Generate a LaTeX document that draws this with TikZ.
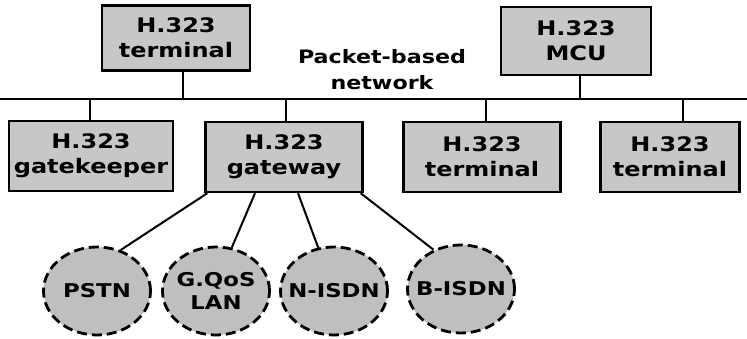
\documentclass[tikz,border=0pt]{standalone}
\usepackage{fontspec}
\setmainfont[FakeStretch=1.2]{DejaVu Sans}
\usetikzlibrary{shapes.geometric}
\begin{document}
\begin{tikzpicture}[x=1pt,y=-1pt,
  unitbox/.style={draw=black, line width=2.4pt, fill=black!22, inner sep=0pt,
    align=center, font=\bfseries\fontsize{20}{25}\selectfont},
  netcloud/.style={ellipse, draw=black, line width=2.8pt, dash pattern=on 10pt off 5pt,
    fill=black!25, inner sep=0pt, minimum width=107pt, minimum height=88pt,
    label={[align=center, font=\bfseries\fontsize{19}{23}\selectfont]center:#1}},
  wire/.style={line width=2pt, draw=black}]
\useasboundingbox (0,0) rectangle (747,339);

% top row
\node[unitbox, minimum width=148pt, minimum height=65pt] (tterm) at (176,38) {H.323\\terminal};
\node[unitbox, minimum width=150pt, minimum height=68pt] (mcu) at (576,41) {H.323\\MCU};
\node[font=\bfseries\fontsize{18.5}{26}\selectfont, align=center] (net) at (382,70) {Packet-based\\network};

% shared LAN bus
\coordinate (busL) at (0,99);
\coordinate (busR) at (747,99);
\draw[wire] (busL) -- (busR);

% second row
\node[unitbox, minimum width=164pt, minimum height=70pt] (gk) at (91,156) {H.323\\gatekeeper};
\node[unitbox, minimum width=157pt, minimum height=70pt] (gw) at (284,157) {H.323\\gateway};
\node[unitbox, minimum width=157pt, minimum height=70pt] (t2) at (482,157) {H.323\\terminal};
\node[unitbox, minimum width=139pt, minimum height=70pt] (t3) at (670,157) {H.323\\terminal};

% drops to the bus
\coordinate (b1) at (183,99);
\coordinate (b2) at (580,99);
\coordinate (b3) at (90,99);
\coordinate (b4) at (286,99);
\coordinate (b5) at (486,99);
\coordinate (b6) at (683,99);
\draw[wire] (tterm.south -| b1) -- (b1);
\draw[wire] (mcu.south -| b2) -- (b2);
\draw[wire] (b3) -- (gk.north -| b3);
\draw[wire] (b4) -- (gw.north -| b4);
\draw[wire] (b5) -- (t2.north -| b5);
\draw[wire] (b6) -- (t3.north -| b6);

% attached networks
\node[netcloud={PSTN}] (pstn) at (97,291) {};
\node[netcloud={G.QoS\\LAN}] (qos) at (216,291) {};
\node[netcloud={N-ISDN}] (nisdn) at (334,291) {};
\node[netcloud={B-ISDN}] (bisdn) at (461,289) {};

\draw[wire] (gw.south west) ++(3,0) -- (pstn.60);
\draw[wire] ([xshift=-29pt]gw.south) -- (qos.70);
\draw[wire] ([xshift=14pt]gw.south) -- (nisdn.110);
\draw[wire] ([xshift=-3pt]gw.south east) -- (bisdn.125);
\end{tikzpicture}
\end{document}
